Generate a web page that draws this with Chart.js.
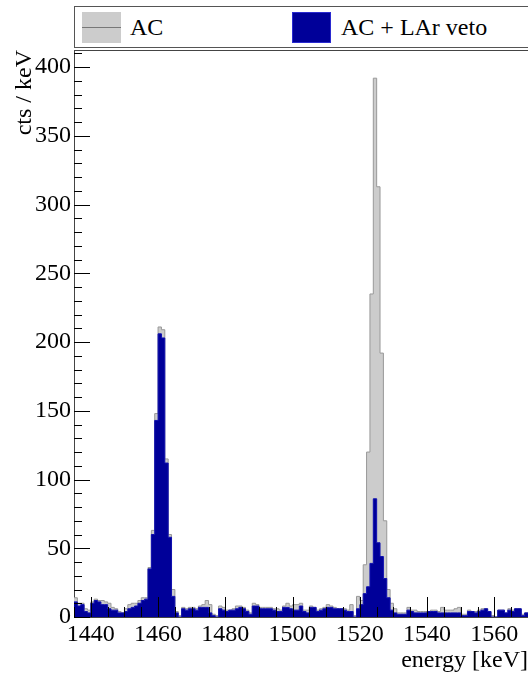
<!DOCTYPE html>
<html>
<head>
<meta charset="utf-8">
<script src="https://cdn.jsdelivr.net/npm/chart.js@4/dist/chart.umd.min.js"></script>
<style>
  html, body { margin: 0; padding: 0; background: #fff; overflow: hidden; }
  #wrap { position: relative; width: 528px; height: 675px; }
  #c { position: absolute; left: 0; top: 0; }
  .lg-box { position: absolute; left: 74px; top: 6px; width: 470px; height: 42px; border: 1px solid #555; background: #fff; box-sizing: border-box; }
  .sw { position: absolute; top: 12px; width: 39px; height: 31px; box-sizing: border-box; }
  .sw-gray { left: 82px; background: #cccccc; }
  .sw-gray::after { content: ""; position: absolute; left: 0; right: 0; top: 15px; height: 1px; background: #777; }
  .sw-blue { left: 292px; background: #000099; border: 1px solid #2a2ad0; }
  .lg-text { position: absolute; top: 14px; font-family: "Liberation Serif", serif; font-size: 24px; line-height: 26px; color: #000; white-space: nowrap; }
</style>
</head>
<body>
<div id="wrap">
  <canvas id="c" width="528" height="675"></canvas>
  <div class="lg-box"></div>
  <div class="sw sw-gray"></div>
  <div class="lg-text" id="lg1" style="left:130px;"></div>
  <div class="sw sw-blue"></div>
  <div class="lg-text" id="lg2" style="left:341px;"></div>
</div>
<script>
// ---- data (1 keV bins, lower bin edges) ----
const binEdges = [1435,1436,1437,1438,1439,1440,1441,1442,1443,1444,1445,1446,1447,1448,1449,
  1450,1451,1452,1453,1454,1455,1456,1457,1458,1459,1460,1461,1462,1463,1464,
  1465,1466,1467,1468,1469,1470,1471,1472,1473,1474,1475,1476,1477,1478,1479,
  1480,1481,1482,1483,1484,1485,1486,1487,1488,1489,1490,1491,1492,1493,1494,
  1495,1496,1497,1498,1499,1500,1501,1502,1503,1504,1505,1506,1507,1508,1509,
  1510,1511,1512,1513,1514,1515,1516,1517,1518,1519,1520,1521,1522,1523,1524,
  1525,1526,1527,1528,1529,1530,1531,1532,1533,1534,1535,1536,1537,1538,1539,
  1540,1541,1542,1543,1544,1545,1546,1547,1548,1549,1550,1551,1552,1553,1554,
  1555,1556,1557,1558,1559,1560,1561,1562,1563,1564,1565,1566,1567,1568,1569,1570];

const countsAC = [14,10,10,6,5,11,13,12,12,11,10,7,6,4,3,
  6,9,10,10,12,14,14,36,63,148,211,209,115,60,20,
  4,1,7,6,7,7,6,8,9,12,9,2,1,8,7,
  5,5,6,8,8,7,5,3,10,9,7,7,7,7,6,
  6,5,8,10,8,9,9,10,5,5,8,7,5,6,7,
  9,8,7,6,6,6,5,9,1,15,12,38,120,235,392,
  313,192,70,20,10,6,3,3,3,7,5,5,4,4,4,
  4,5,5,4,7,5,5,5,6,7,2,2,5,4,4,
  5,6,6,4,1,0,5,5,3,6,5,6,6,2,3];

const countsVeto = [11,8,9,4,3,10,12,11,9,9,6,5,5,3,3,
  4,6,7,8,10,12,13,35,60,143,206,203,112,58,15,
  3,0,6,5,6,6,5,7,7,7,3,1,0,6,5,
  4,5,5,6,7,6,4,2,8,8,6,6,6,6,5,
  4,4,7,7,6,5,5,8,4,3,7,7,4,5,6,
  7,7,6,6,6,5,4,4,0,6,9,17,22,39,86,
  54,44,28,14,5,3,2,2,2,5,4,3,3,3,3,
  4,4,4,3,3,3,3,3,3,3,1,1,4,4,3,
  4,5,6,4,0,0,5,5,3,5,4,6,6,1,3];

const seriesNames = ["AC", "AC + LAr veto"];
const xTitle = "energy [keV]";
const yTitle = "cts / keV";

document.getElementById('lg1').textContent = seriesNames[0];
document.getElementById('lg2').textContent = seriesNames[1];

// histogram as stepped line: each bin value holds from its lower edge to the next edge
function histPoints(counts) {
  const pts = counts.map((v, i) => ({ x: binEdges[i], y: v }));
  pts.push({ x: binEdges[counts.length], y: counts[counts.length - 1] });
  return pts;
}

const FONT = "Liberation Serif";

// ROOT-style inward tick marks and top frame line
const rootAxes = {
  id: 'rootAxes',
  afterDatasetsDraw(chart) {
    const { ctx, chartArea: a, scales: { x, y } } = chart;
    ctx.save();
    ctx.strokeStyle = '#000';
    ctx.lineWidth = 1;
    ctx.beginPath();
    for (let v = Math.ceil(x.min / 5) * 5; v <= x.max; v += 5) {
      const px = Math.round(x.getPixelForValue(v)) + 0.5;
      const len = (v % 20 === 0) ? 20 : 10;
      ctx.moveTo(px, a.bottom);
      ctx.lineTo(px, a.bottom - len);
    }
    for (let v = 0; v <= y.max; v += 10) {
      const py = Math.round(y.getPixelForValue(v)) + 0.5;
      const len = (v % 50 === 0) ? 16 : 8;
      ctx.moveTo(a.left, py);
      ctx.lineTo(a.left + len, py);
    }
    ctx.stroke();
    ctx.strokeStyle = '#444';
    ctx.beginPath();
    ctx.moveTo(a.left, Math.round(a.top) + 0.5);
    ctx.lineTo(a.right, Math.round(a.top) + 0.5);
    ctx.stroke();
    ctx.restore();
  }
};

new Chart(document.getElementById('c'), {
  type: 'line',
  data: {
    datasets: [
      {
        label: seriesNames[1],
        data: histPoints(countsVeto),
        stepped: 'before',
        borderColor: '#1010b0',
        borderWidth: 1,
        backgroundColor: '#000099',
        fill: 'origin',
        pointRadius: 0,
        order: 0
      },
      {
        label: seriesNames[0],
        data: histPoints(countsAC),
        stepped: 'before',
        borderColor: '#999999',
        borderWidth: 1,
        backgroundColor: '#cccccc',
        fill: 'origin',
        pointRadius: 0,
        order: 1
      }
    ]
  },
  options: {
    responsive: false,
    animation: false,
    devicePixelRatio: 1,
    layout: { padding: { top: 50, left: 0, right: 0, bottom: 0 } },
    plugins: { legend: { display: false }, tooltip: { enabled: false } },
    scales: {
      x: {
        type: 'linear',
        min: 1435,
        max: 1570,
        afterFit: (s) => { s.height = 58; },
        grid: { display: true, drawOnChartArea: false, drawTicks: false },
        border: { display: true, color: '#444', width: 1 },
        ticks: {
          stepSize: 20,
          includeBounds: false,
          autoSkip: false,
          maxRotation: 0,
          padding: 3,
          color: '#000',
          font: { family: FONT, size: 24 },
          callback: (v) => String(v)
        },
        title: {
          display: true,
          text: xTitle,
          align: 'end',
          color: '#000',
          padding: { top: 4, bottom: 0 },
          font: { family: FONT, size: 24 }
        }
      },
      y: {
        type: 'linear',
        min: 0,
        max: 412.5,
        afterFit: (s) => { s.width = 74; },
        grid: { display: true, drawOnChartArea: false, drawTicks: false },
        border: { display: true, color: '#444', width: 1 },
        ticks: {
          stepSize: 50,
          includeBounds: false,
          autoSkip: false,
          padding: 3,
          color: '#000',
          font: { family: FONT, size: 24 },
          callback: (v) => String(v)
        },
        title: {
          display: true,
          text: yTitle,
          align: 'end',
          color: '#000',
          padding: { top: 10, bottom: 0 },
          font: { family: FONT, size: 24 }
        }
      }
    }
  },
  plugins: [rootAxes]
});
</script>
</body>
</html>
